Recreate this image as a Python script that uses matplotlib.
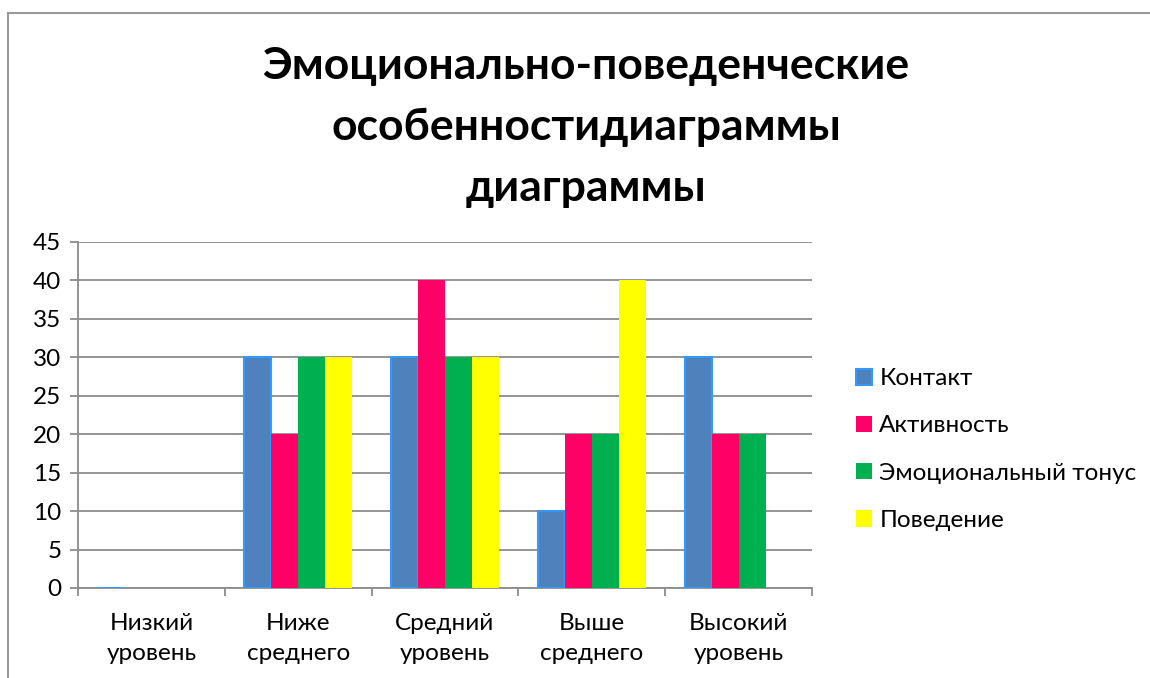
import numpy as np
import matplotlib.pyplot as plt
from matplotlib.lines import Line2D

plt.rcParams['font.family'] = ['Lato', 'DejaVu Sans']

# данные
categories = ['Низкий\nуровень', 'Ниже\nсреднего', 'Средний\nуровень', 'Выше\nсреднего', 'Высокий\nуровень']
series_names = ['Контакт', 'Активность', 'Эмоциональный тонус', 'Поведение']
kontakt = [0, 30, 30, 10, 30]
aktivnost = [0, 20, 40, 20, 20]
emo_tonus = [0, 30, 30, 20, 20]
povedenie = [0, 30, 30, 40, 0]
y_ticks = [0, 5, 10, 15, 20, 25, 30, 35, 40, 45]

colors = ['#4F81BD', '#FF0066', '#00B050', '#FFFF00']
edges = ['#3399FF', 'none', 'none', 'none']

fig = plt.figure(figsize=(11.5, 6.78), dpi=100)
ax = fig.add_axes([78 / 1150, 1 - 588 / 678, (812 - 78) / 1150, (588 - 242) / 678])

x = np.arange(len(categories))
w = 0.184
for i, (vals, name) in enumerate(zip([kontakt, aktivnost, emo_tonus, povedenie], series_names)):
    ax.bar(x + (i - 1.5) * w, vals, w, color=colors[i], edgecolor=edges[i],
           linewidth=1.5 if i == 0 else 0, label=name, zorder=3)

ax.set_xlim(-0.5, len(categories) - 0.5)
ax.set_ylim(0, 45)
ax.set_yticks(y_ticks)
ax.set_yticklabels([str(v) for v in y_ticks], fontsize=17.5)
ax.yaxis.grid(True, color='#8c8c8c', linewidth=1.3)
ax.set_axisbelow(True)

ax.set_xticks(x)
ax.set_xticklabels(categories, fontsize=17.5, linespacing=1.5)
ax.set_xticks(np.arange(-0.5, len(categories)), minor=True)
ax.tick_params(axis='x', which='major', length=0, pad=18)
ax.tick_params(axis='x', which='minor', length=6, width=1.3, color='#8c8c8c')
ax.tick_params(axis='y', length=6, width=1.3, color='#8c8c8c', pad=6)

for s in ['top', 'right']:
    ax.spines[s].set_visible(False)
for s in ['left', 'bottom']:
    ax.spines[s].set_color('#8c8c8c')
    ax.spines[s].set_linewidth(1.3)

fig.text(586 / 1150, 1 - 127 / 678, 'Эмоционально-поведенческие\nособенностидиаграммы\nдиаграммы',
         ha='center', va='center', fontsize=32, fontweight='bold', linespacing=1.64)

leg = ax.legend(loc='center left', bbox_to_anchor=(1.06, 0.40), frameon=False, fontsize=17.5,
                borderpad=0, borderaxespad=0,
                handlelength=0.66, handleheight=0.66, handletextpad=0.3, labelspacing=1.08)

# рамка диаграммы
fig.add_artist(Line2D([8 / 1150, 8 / 1150], [0, 1 - 13 / 678], color='#9a9a9a', lw=1.5))
fig.add_artist(Line2D([8 / 1150, 1], [1 - 13 / 678, 1 - 13 / 678], color='#9a9a9a', lw=1.5))

fig.savefig('out.png', dpi=100)
